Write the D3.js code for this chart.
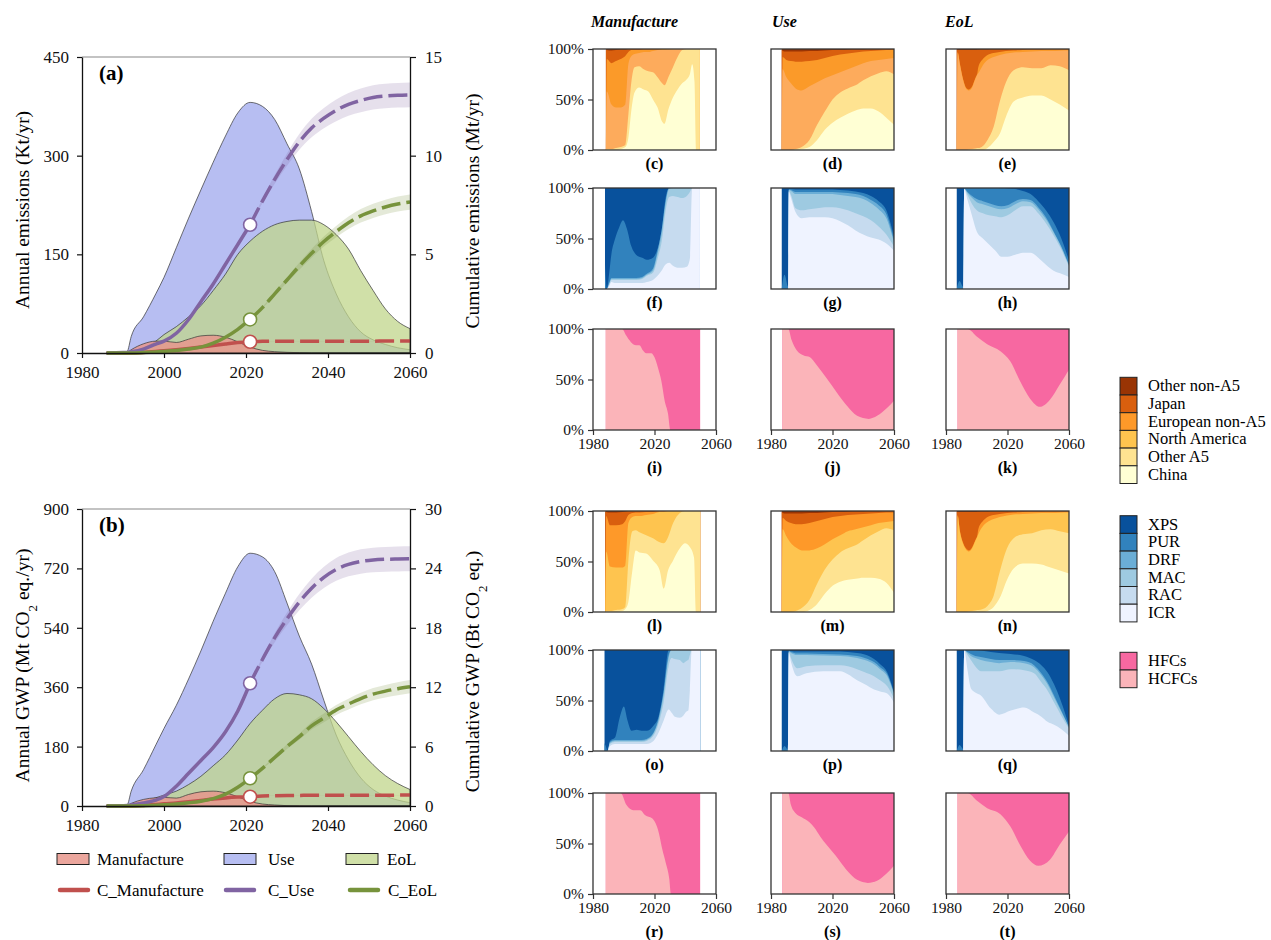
<!DOCTYPE html>
<html><head><meta charset="utf-8">
<script src="https://cdn.jsdelivr.net/npm/d3@7"></script>
<style>body{margin:0;background:#fff}svg{font-family:"Liberation Serif","Times New Roman",Times,serif}</style>
</head><body><svg id="chart" width="1271" height="940"></svg>
<script>
// ---------------- DATA: panels (a) and (b) ----------------
const years = [1986,1990,1991,1992,1995,1998,2000,2003,2006,2009,2012,2015,2018,2021,2024,2027,2030,2033,2036,2039,2042,2045,2048,2051,2054,2057,2060];
// (a) annual emissions, kt/yr
const aManufacture = [0,0,1,5,14,18,18,16,21,26,27,24,17,9,4,2,1,0.5,0,0,0,0,0,0,0,0,0];
const aUse = [0,0,2,25,55,90,115,160,205,248,290,330,365,381,375,355,318,280,215,140,90,55,32,20,13,8,5];
const aEoL = [0,0,0,2,8,18,28,40,55,72,95,120,150,170,185,195,200,202,202,195,180,158,125,95,67,48,37];
// (a) cumulative emissions, Mt
const aCumManufacture = [0,0,0,0.005,0.03,0.08,0.12,0.17,0.23,0.3,0.38,0.46,0.53,0.57,0.59,0.6,0.6,0.6,0.6,0.6,0.6,0.6,0.6,0.6,0.61,0.61,0.61];
const aCumUse = [0,0.02,0.03,0.06,0.2,0.45,0.6,1.0,1.7,2.6,3.5,4.5,5.5,6.5,7.7,8.8,9.8,10.7,11.4,11.9,12.3,12.6,12.8,12.95,13.02,13.06,13.08];
const aCumEoL = [0,0,0,0,0.02,0.05,0.08,0.13,0.2,0.3,0.5,0.8,1.2,1.7,2.3,3.0,3.7,4.4,5.05,5.65,6.15,6.6,6.95,7.2,7.4,7.55,7.65];
// (b) annual GWP, Mt CO2 eq./yr
const bManufacture = [0,0,2,8,20,25,26,24,35,43,45,40,28,14,6,3,1,0.5,0,0,0,0,0,0,0,0,0];
const bUse = [0,0,3,45,110,185,235,305,385,470,560,645,725,766,755,710,615,515,430,320,215,140,85,50,30,18,10];
const bEoL = [0,0,0,3,12,25,33,45,65,90,122,155,200,250,290,325,341,337,325,295,255,210,165,125,92,68,50];
// (b) cumulative GWP, Bt CO2 eq.
const bCumManufacture = [0,0,0,0.01,0.06,0.15,0.22,0.3,0.42,0.55,0.7,0.82,0.9,0.94,1.0,1.04,1.06,1.07,1.08,1.08,1.08,1.08,1.08,1.09,1.09,1.1,1.1];
const bCumUse = [0,0.03,0.05,0.1,0.3,0.6,0.95,2.0,3.3,4.6,5.9,7.5,9.6,12.4,14.8,17.0,18.9,20.6,22.0,23.1,23.9,24.4,24.7,24.85,24.92,24.95,24.97];
const bCumEoL = [0,0,0,0,0.03,0.08,0.12,0.2,0.32,0.48,0.75,1.2,1.9,2.8,3.8,4.9,6.0,7.0,8.1,8.9,9.7,10.3,10.85,11.3,11.6,11.85,12.05];
// relative uncertainty of projected cumulative increase (band half-width)
const bandRatioA = [0.1, 0.095, 0.065];
const bandRatioB = [0.1, 0.1, 0.072];
const baseYear = 2021;
const aTicksLeft = [0,150,300,450], aTicksRight = [0,5,10,15];
const bTicksLeft = [0,180,360,540,720,900], bTicksRight = [0,6,12,18,24,30];
const xTicksMain = [1980,2000,2020,2040,2060];

// ---------------- DATA: share panels (cumulative top of each layer, %) ----------------
const regionNames = ["China","Other A5","North America","European non-A5","Japan","Other non-A5"];
const sectorNames = ["ICR","RAC","MAC","DRF","PUR","XPS"];
const gasNames = ["HCFCs","HFCs"];

const cYears = [1988.4,1989,1992,1995,1998,2001,2003,2005,2007,2010,2013,2016,2019,2022,2025,2026.5,2029,2032,2035,2038,2041,2043,2044.5,2046,2047,2049.5];
const cChina = [0,0,0,0,1,3,12,40,57,62,60,58,50,42,28,26,40,52,60,66,70,75,85,68,0,0];
const cOtherA5 = [0,1,1,2,3,5,35,68,82,83,80,78,77,72,66,64,72,82,92,99,100,100,100,100,100,100];
const cNorthAmerica = [0,58,45,42,42,45,85,93,95,96,97,97,98,99,99,99,99.5,100,100,100,100,100,100,100,100,100];
const cEuropean = [0,90,86,88,90,93,97,99,99,99,99.5,99.5,99.5,99.5,100,100,100,100,100,100,100,100,100,100,100,100];
const cJapan = [100,99,98.5,99,99.5,99.5,100,100,100,100,100,100,100,100,100,100,100,100,100,100,100,100,100,100,100,100];

const dYears = [1987,1987.6,1990,1993,1996,2000,2005,2010,2015,2020,2025,2030,2035,2040,2045,2050,2055,2060];
const dChina = [0,0,0,0,0,1,3,10,20,27,32,36,39,41,41,38,32,25];
const dOtherA5 = [0,0,0,0,1,3,10,25,38,50,57,61,64,69,73,76,78,75];
const dNorthAmerica = [0,80,72,66,61,59,63,67,71,74,77,80,83,86,88,89,90,91];
const dEuropean = [0,92,89,88,87.5,87.5,88,89,91,93,94.5,95.5,96.5,97.5,98,98.5,99,99.3];
const dJapan = [100,98,97.5,97.5,97.5,97.5,98,98,98.5,99,99,99.3,99.5,99.6,99.7,99.8,99.9,100];

const eYears = [1987,1987.6,1989,1991,1993,1995,1997,1999,2000.5,2001,2004,2007,2011,2015,2019,2024,2030,2036,2042,2048,2054,2060];
const eChina = [0,0,0,0,0,0,0,0,0,0,0,2,8,16,33,48,52,54,54,50,45,39];
const eOtherA5 = [0,0,0,0,0,0.5,1,1.5,2,2,4,10,23,48,67,79,82,81,81,84,83,79];
const eNorthAmerica = [0,96,85,70,61,59,62,70,75,76,84,89,92,94,95.5,96.5,97,97.5,98,98,98.3,98.5];
const eEuropean = [0,97,86,71,62,60,63,71,77,82,90,94,96,97,98,98.5,99,99.2,99.3,99.4,99.5,99.5];
const eJapan = [100,99,99,99,99,99,99,99,99.2,99.3,99.5,99.6,99.7,99.8,99.8,99.9,99.9,99.9,100,100,100,100];

const fYears = [1987.8,1988.3,1989,1990.5,1992,1994,1997,1999.5,2002,2005,2008,2012,2015,2019,2022,2025,2027,2029.5,2032,2035,2038,2041,2043,2044.5,2046,2049.5];
const fICR = [0,0,0,3,7,6,6,6,6,6,6,6,7,9,13,19,24,26,23,21,21,22,30,100,100,100];
const fRAC = [0,0,0,4,9,9,9,9,9,9,9,10,13,16,30,50,75,91,92,91,90,92,96,100,100,100];
const fMAC = [0,0,0,5,10,10,10,10,10,10,10,11,14,18,35,58,82,99,100,100,100,100,100,100,100,100];
const fDRF = [0,0,0,6,11,11,11,11,11,11,11,12,15,20,38,62,85,100,100,100,100,100,100,100,100,100];
const fPUR = [25,10,0,15,35,48,61,68,60,42,34,31,29,31,40,62,88,100,100,100,100,100,100,100,100,100];

const gYears = [1987,1988.8,1991.2,1991.6,1993,1996,2000,2005,2010,2015,2020,2025,2030,2035,2040,2045,2050,2055,2060];
const gICR = [0,0,0,96,90,76,70,71,71,71,70,67,63,58,54,51,49,45,38];
const gRAC = [0,0,0,97,93,80,78,79,80,81,81,80,78,75,72,68,62,54,42];
const gMAC = [0,0,0,98,97,94,94,94,94,94,94,93,92,91,89,85,79,70,46];
const gDRF = [0,0,0,98.5,98,96,96,96,96,96,96,95.5,95,94,92,88,83,74,48];
const gPUR = [0,14,2,99,99,98.5,98.5,98.5,98.5,98.5,98.5,98,97.5,96.5,95,92,87,78,52];

const hYears = [1987,1988.8,1991.3,1991.8,1994,1997,2000,2004,2008,2012,2016,2020,2025,2030,2035,2040,2045,2050,2055,2060];
const hICR = [0,0,0,99,88,72,57,50,44,38,32,32,34,36,36,31,24,18,15,12];
const hRAC = [0,0,0,99,93,84,78,75,73,72,71,73,78,82,82,75,65,53,39,22];
const hMAC = [0,0,0,99.2,95,90,86,84,82,80,79,80,84,87,86,79,69,56,41,23];
const hDRF = [0,0,0,99.4,96,92,89,87,85,83,82,83,87,89,88,81,71,57,42,23.5];
const hPUR = [0,8,2,100,100,100,100,100,100,100,99.7,99.5,99,97,94,87,78,66,50,28];

const iYears = [1988.3,1999,2001.4,2004.7,2008,2010.2,2012.4,2014.6,2017.9,2020,2022.2,2024.4,2026.6,2028.8,2030.3,2049.7];
const iHCFC = [100,100,94,87,84,84,79,76,76,72,62,49,29,16,0,0];
const jYears = [1987.4,1991.3,1993.4,1996.7,2001,2005.4,2009.8,2016.3,2022.9,2029.4,2036,2043.6,2049,2055.6,2060];
const jHCFC = [100,100,89,79,74,72,64,51,37,24,14,11,14,22,29];
const kYears = [1987.5,1994,2000.4,2006.8,2015.4,2021.8,2028.3,2034.7,2041.1,2047.6,2054,2060];
const kHCFC = [100,100,92,85,78,68,48,31,23,30,45,60];

const lYears = [1988,1988.6,1991,1995,1999,2001,2003,2005.6,2007.8,2010.2,2014.6,2019,2023.4,2026,2028.8,2032.1,2036.5,2039.8,2043.1,2045.7,2047,2049.7];
const lChina = [0,0,0,0,1,3,10,41,61,59,58,51,41,23,41,51,63,68,64,54,0,0];
const lOtherA5 = [0,1,1,2,3,5,50,80,81,79,76,73,69,68,74,88,98,100,100,100,100,100];
const lNorthAmerica = [0,60,45,44,44,46,88,94,95,95,96,97,99,99,100,100,100,100,100,100,100,100];
const lEuropean = [0,95,86,86,87,90,96,98,98.5,98.5,99,99,100,100,100,100,100,100,100,100,100,100];
const lJapan = [100,99,98.5,98.5,99,99.5,100,100,100,100,100,100,100,100,100,100,100,100,100,100,100,100];

const mYears = [1987,1987.6,1990,1993,1996,2000,2005,2010,2015,2020,2025,2030,2035,2040,2045,2050,2055,2060];
const mChina = [0,0,0,0,0,0,2,8,18,26,30,32,33,34,34,33,29,19];
const mOtherA5 = [0,0,0,0,1,4,12,28,42,52,59,63,66,71,76,80,83,81];
const mNorthAmerica = [0,82,75,68,64,61,61,63,67,72,76,80,82,84,86,88,89,90];
const mEuropean = [0,93,90,88,87,87,88,90,92,94,95,96,96.5,97,97.5,98,98.5,98.5];
const mJapan = [100,98,97.5,97.5,97.5,97.5,98,98,98.5,99,99,99.3,99.5,99.6,99.7,99.8,99.9,100];

const nYears = [1987,1987.6,1989,1991,1993,1995,1997,1999,2000.5,2001,2004,2007,2011,2015,2019.7,2024,2030,2036,2042,2048,2054,2060];
const nChina = [0,0,0,0,0,0,0,0,0,0,0,1,5,14,32,43,48,48,47,44,41,38];
const nOtherA5 = [0,0,0,0,0,0.5,1,1.5,2,2,3,6,16,40,63,73,77,78,81,82,80,78];
const nNorthAmerica = [0,95,80,68,62,60,63,70,75,77,85,89,92,94,95.5,96.5,97,97.5,98,98,98.3,98.5];
const nEuropean = [0,96,81,69,63,61,64,71,77,82,90,94,96,97,98,98.5,99,99.2,99.3,99.4,99.5,99.5];
const nJapan = [100,99,99,99,99,99,99,99,99.2,99.3,99.5,99.6,99.7,99.8,99.8,99.9,99.9,99.9,100,100,100,100];

const oYears = [1987.5,1988.3,1989.5,1991,1994.2,1997.5,2000.1,2002.3,2005.1,2008.4,2011.6,2014.9,2019.3,2022.6,2025.9,2029.2,2031,2033.2,2036.5,2038.7,2040.8,2042,2043,2044.2,2049.7];
const oICR = [0,0,0,5,7,7,7,7,7,7,7,7,10,18,30,41,38,34,33,35,39,40,60,100,100];
const oRAC = [0,0,0,7,9,9,9,9,9,9,9,10,15,27,48,84,92,91,90,87,89,90,95,100,100];
const oMAC = [0,0,0,8,10,10,10,10,10,10,10,11,17,30,55,92,100,100,100,100,100,100,100,100,100];
const oDRF = [0,0,0,9,11,11,11,11,11,11,11,12,18,32,58,95,100,100,100,100,100,100,100,100,100];
const oPUR = [8,5,0,10,13,34,44,31,20,21,20,20,25,34,61,100,100,100,100,100,100,100,100,100,100];

const pYears = [1987,1988.8,1991.2,1991.6,1993,1997,2003,2014,2025,2030,2036,2041,2047,2051,2055.6,2060];
const pICR = [0,0,0,97,88,74,77,79,79,76,70,66,61,59,57,48];
const pRAC = [0,0,0,98,92,82,84,85,85,84,81,78,74,70,64,52];
const pMAC = [0,0,0,98.5,97,95,95,94.5,94,93.5,92,90,86,81,74,56];
const pDRF = [0,0,0,99,98,96.5,96.5,96,95.5,95,94,92,88,83,76,57];
const pPUR = [0,5,1,99.5,99,98.5,98.5,98.5,98.5,98,97,95.5,91,86,78,58];

const qYears = [1987,1988.8,1991.3,1991.8,1994,1996.2,1999,2002.7,2009.2,2014.6,2022.2,2030.8,2037.3,2042,2046,2050.3,2054.6,2060];
const qICR = [0,0,0,100,80,62,58,55,42,36,40,43,38,34,29,26,22,15];
const qRAC = [0,0,0,100,95,90,84,79,79,79,81,80,77,68,60,48,36,22];
const qMAC = [0,0,0,100,97,94,92,90,88,87,88,87,83,75,66,53,40,23];
const qDRF = [0,0,0,100,98,96,94,93,91,90,90,89,85,77,68,55,41,23.5];
const qPUR = [0,6,2,100,100,100,100,99.5,98,97,96,94,90,85,78,66,50,25];

const rYears = [1988.3,1998,2001.8,2006.2,2010.7,2014,2018.4,2020.7,2022.9,2025.1,2027.3,2029.6,2030.7,2049.7];
const rHCFC = [100,100,88,83,83,78,75,70,60,44,31,15,0,0];
const sYears = [1987.4,1991.3,1993,1996,2000,2005,2008,2012,2016,2022,2029,2036,2043,2049,2055,2060];
const sHCFC = [100,100,88,80,76,71,66,57,49,38,24,14,11,13,20,28];
const tYears = [1987.5,1994,2000.4,2006.8,2015.4,2021.8,2028.3,2034.7,2040,2047.6,2054,2060];
const tHCFC = [100,100,92,85,79,67,48,33,28,34,49,62];

const shareTicks = [0,50,100];
const shareXTicks = [1980,2020,2060];

// ---------------- STYLES ----------------
const colManufacture = "#e8968c", colUse = "#b7bef2", colEoL = "#c0d68b";
const lineManufacture = "#c0504d", lineUse = "#8064a2", lineEoL = "#77933c";
const regionColorsEm = ["#ffffd4","#fee391","#fdab5c","#fb9a29","#d95f0e","#993404"];
const regionColorsGwp = ["#ffffd4","#fee391","#fec44f","#fe9929","#d95f0e","#993404"];
const sectorColors = ["#eff3ff","#c6dbef","#9ecae1","#6baed6","#3182bd","#08519c"];
const gasColors = ["#fbb4b9","#f768a1"];

const svg = d3.select("#chart");

// ---------------- MAIN PANELS ----------------
function drawMain(o) {
  const x = d3.scaleLinear().domain([1980,2060]).range([82,410]);
  const y = d3.scaleLinear().domain([0,o.yMax]).range([o.bottom,o.top]);
  const y2 = d3.scaleLinear().domain([0,o.y2Max]).range([o.bottom,o.top]);
  const g = svg.append("g");
  const area = vals => d3.area().x((d,i)=>x(years[i])).y0(y(0)).y1((d,i)=>y(vals[i])).curve(d3.curveMonotoneX)(years);
  g.append("path").attr("d", area(o.use)).attr("fill", colUse).attr("stroke","#333").attr("stroke-width",0.7);
  g.append("path").attr("d", area(o.eol)).attr("fill", colEoL).attr("fill-opacity",0.75).attr("stroke","#333").attr("stroke-width",0.7);
  g.append("path").attr("d", area(o.man)).attr("fill", colManufacture).attr("fill-opacity",0.85).attr("stroke","#333").attr("stroke-width",0.7);

  const cums = [[o.cMan,lineManufacture,o.ratio[0]],[o.cUse,lineUse,o.ratio[1]],[o.cEoL,lineEoL,o.ratio[2]]];
  const bi = years.indexOf(baseYear);
  // uncertainty bands
  cums.forEach(([vals,col,r])=>{
    const v0 = vals[bi];
    const idx = years.map((d,i)=>i).filter(i=>years[i]>=baseYear);
    const band = d3.area().x(i=>x(years[i])).y0(i=>y2(vals[i]-r*(vals[i]-v0))).y1(i=>y2(vals[i]+r*(vals[i]-v0))).curve(d3.curveMonotoneX);
    g.append("path").attr("d", band(idx)).attr("fill", col).attr("fill-opacity",0.2);
  });
  cums.forEach(([vals,col])=>{
    const line = d3.line().x(i=>x(years[i])).y(i=>y2(vals[i])).curve(d3.curveMonotoneX);
    const hist = years.map((d,i)=>i).filter(i=>years[i]<=baseYear);
    const proj = years.map((d,i)=>i).filter(i=>years[i]>=baseYear);
    g.append("path").attr("d", line(hist)).attr("fill","none").attr("stroke",col).attr("stroke-width",3.5);
    g.append("path").attr("d", line(proj)).attr("fill","none").attr("stroke",col).attr("stroke-width",3.5).attr("stroke-dasharray","19,6");
  });
  cums.forEach(([vals,col])=>{
    g.append("circle").attr("cx", x(baseYear)).attr("cy", y2(vals[bi])).attr("r",6.5).attr("fill","#fff").attr("stroke",col).attr("stroke-width",1.6);
  });

  // frame + axes
  g.append("line").attr("x1",82).attr("x2",410).attr("y1",o.top).attr("y2",o.top).attr("stroke","#888").attr("stroke-width",1.2);
  const ax = (sel)=>{ sel.selectAll("text").attr("font-size",17).attr("fill","#111").attr("font-family",'"Liberation Serif",serif');
    sel.select(".domain").attr("stroke","#111").attr("stroke-width",1.3); sel.selectAll(".tick line").attr("stroke","#111").attr("stroke-width",1.2); };
  g.append("g").attr("transform",`translate(82,0)`).call(d3.axisLeft(y).tickValues(o.yTicks).tickSize(5).tickPadding(8).tickSizeOuter(0)).call(ax);
  g.append("g").attr("transform",`translate(410,0)`).call(d3.axisRight(y2).tickValues(o.y2Ticks).tickSize(6).tickPadding(9).tickSizeOuter(0)).call(ax);
  g.append("g").attr("transform",`translate(0,${o.bottom})`).call(d3.axisBottom(x).tickValues(xTicksMain).tickFormat(d3.format("d")).tickSize(5).tickPadding(8).tickSizeOuter(0)).call(ax);

  g.append("text").attr("x",99).attr("y",o.top+23).attr("font-size",21).attr("font-weight","bold").text(o.label);
  const cy = (o.top+o.bottom)/2;
  const t1 = g.append("text").attr("transform",`translate(22,${cy+o.lOff}) rotate(-90)`).attr("text-anchor","middle").attr("dy","0.35em").attr("font-size",19.5);
  o.ylab(t1);
  const t2 = g.append("text").attr("transform",`translate(472,${cy+o.rOff}) rotate(-90)`).attr("text-anchor","middle").attr("dy","0.35em").attr("font-size",19.5);
  o.y2lab(t2);
}

drawMain({top:57,bottom:353,yMax:450,y2Max:15,yTicks:aTicksLeft,y2Ticks:aTicksRight,label:"(a)",
  use:aUse,eol:aEoL,man:aManufacture,cMan:aCumManufacture,cUse:aCumUse,cEoL:aCumEoL,ratio:bandRatioA,lOff:5,rOff:6,
  ylab:t=>t.text("Annual emissions (Kt/yr)"), y2lab:t=>t.text("Cumulative emissions (Mt/yr)")});
drawMain({top:509,bottom:806,yMax:900,y2Max:30,yTicks:bTicksLeft,y2Ticks:bTicksRight,label:"(b)",
  use:bUse,eol:bEoL,man:bManufacture,cMan:bCumManufacture,cUse:bCumUse,cEoL:bCumEoL,ratio:bandRatioB,lOff:8,rOff:14,
  ylab:t=>{t.append("tspan").text("Annual GWP (Mt CO");t.append("tspan").attr("font-size",13).attr("baseline-shift","sub").text("2");t.append("tspan").text(" eq./yr)");},
  y2lab:t=>{t.append("tspan").text("Cumulative GWP (Bt CO");t.append("tspan").attr("font-size",13).attr("baseline-shift","sub").text("2");t.append("tspan").text(" eq.)");}});

// bottom legend
const legArea = [["Manufacture",colManufacture,0.85,57,97],["Use",colUse,1,224,268],["EoL",colEoL,0.75,346,387]];
legArea.forEach(([name,col,op,x0,tx])=>{
  svg.append("rect").attr("x",x0).attr("y",853.5).attr("width",32).attr("height",11).attr("fill",col).attr("fill-opacity",op).attr("stroke","#222").attr("stroke-width",1);
  svg.append("text").attr("x",tx).attr("y",865).attr("font-size",17).text(name);
});
const legLine = [["C_Manufacture",lineManufacture,58,97],["C_Use",lineUse,224,268],["C_EoL",lineEoL,348,388]];
legLine.forEach(([name,col,x0,tx])=>{
  svg.append("line").attr("x1",x0+2).attr("x2",x0+30).attr("y1",890).attr("y2",890).attr("stroke",col).attr("stroke-width",4.5).attr("stroke-linecap","round");
  svg.append("text").attr("x",tx).attr("y",896).attr("font-size",17).text(name);
});

// ---------------- SHARE PANELS ----------------
const colX = [593,771,946], pw = 123;
const rowY = [49,188,329,511,650,793], ph = 101;
const panels = [
  ["c",0,0,cYears,[cChina,cOtherA5,cNorthAmerica,cEuropean,cJapan],regionColorsEm],
  ["d",1,0,dYears,[dChina,dOtherA5,dNorthAmerica,dEuropean,dJapan],regionColorsEm],
  ["e",2,0,eYears,[eChina,eOtherA5,eNorthAmerica,eEuropean,eJapan],regionColorsEm],
  ["f",0,1,fYears,[fICR,fRAC,fMAC,fDRF,fPUR],sectorColors],
  ["g",1,1,gYears,[gICR,gRAC,gMAC,gDRF,gPUR],sectorColors],
  ["h",2,1,hYears,[hICR,hRAC,hMAC,hDRF,hPUR],sectorColors],
  ["i",0,2,iYears,[iHCFC],gasColors],
  ["j",1,2,jYears,[jHCFC],gasColors],
  ["k",2,2,kYears,[kHCFC],gasColors],
  ["l",0,3,lYears,[lChina,lOtherA5,lNorthAmerica,lEuropean,lJapan],regionColorsGwp],
  ["m",1,3,mYears,[mChina,mOtherA5,mNorthAmerica,mEuropean,mJapan],regionColorsGwp],
  ["n",2,3,nYears,[nChina,nOtherA5,nNorthAmerica,nEuropean,nJapan],regionColorsGwp],
  ["o",0,4,oYears,[oICR,oRAC,oMAC,oDRF,oPUR],sectorColors],
  ["p",1,4,pYears,[pICR,pRAC,pMAC,pDRF,pPUR],sectorColors],
  ["q",2,4,qYears,[qICR,qRAC,qMAC,qDRF,qPUR],sectorColors],
  ["r",0,5,rYears,[rHCFC],gasColors],
  ["s",1,5,sYears,[sHCFC],gasColors],
  ["t",2,5,tYears,[tHCFC],gasColors]
];
const defs = svg.append("defs");
panels.forEach(([id,col,row,yrs,tops,colors])=>{
  const x0 = colX[col], y0 = rowY[row];
  const x = d3.scaleLinear().domain([1980,2060]).range([x0,x0+pw]);
  const y = d3.scaleLinear().domain([0,100]).range([y0+ph,y0]);
  defs.append("clipPath").attr("id","clip-"+id).append("rect").attr("x",x0).attr("y",y0).attr("width",pw).attr("height",ph);
  const g = svg.append("g").attr("clip-path",`url(#clip-${id})`);
  const full = yrs.map(()=>100);
  const layers = tops.concat([full]);
  for (let k = layers.length-1; k >= 0; k--) {
    const vals = layers[k];
    const a = d3.area().x((d,i)=>x(yrs[i])).y0(y(0)).y1((d,i)=>y(vals[i])).curve(d3.curveMonotoneX);
    g.append("path").attr("d", a(yrs)).attr("fill", colors[k]);
  }
  svg.append("rect").attr("x",x0).attr("y",y0).attr("width",pw).attr("height",ph).attr("fill","none").attr("stroke","#333").attr("stroke-width",1.3);
  const ax = (sel)=>{ sel.selectAll("text").attr("font-size",15.5).attr("fill","#111").attr("font-family",'"Liberation Serif",serif');
    sel.select(".domain").remove(); sel.selectAll(".tick line").attr("stroke","#333").attr("stroke-width",1.2); };
  if (col === 0) {
    svg.append("g").attr("transform",`translate(${x0},0)`).call(d3.axisLeft(y).tickValues(shareTicks).tickFormat(d=>d+"%").tickSize(5).tickPadding(4)).call(ax);
  }
  let labY = y0+ph+19;
  if (row === 2 || row === 5) {
    svg.append("g").attr("transform",`translate(0,${y0+ph})`).call(d3.axisBottom(x).tickValues(shareXTicks).tickFormat(d3.format("d")).tickSize(5).tickPadding(3)).call(ax);
    labY = y0+ph+43;
  }
  svg.append("text").attr("x",x0+pw/2).attr("y",labY).attr("text-anchor","middle").attr("font-size",16).attr("font-weight","bold").text(`(${id})`);
});
// column headers
[["Manufacture",591],["Use",772],["EoL",945]].forEach(([t,xx])=>{
  svg.append("text").attr("x",xx).attr("y",27).attr("font-size",16).attr("font-weight","bold").attr("font-style","italic").text(t);
});

// right legend
function legendBlock(names, colors, top) {
  names.forEach((n,i)=>{
    const yy = top + i*17.7;
    svg.append("rect").attr("x",1120).attr("y",yy).attr("width",17).attr("height",17.7).attr("fill",colors[i]).attr("stroke","#222").attr("stroke-width",1);
    svg.append("text").attr("x",1148).attr("y",yy+13.8).attr("font-size",16.5).text(n);
  });
}
legendBlock(regionNames.slice().reverse(), regionColorsGwp.slice().reverse(), 377.3);
legendBlock(sectorNames.slice().reverse(), sectorColors.slice().reverse(), 515.7);
legendBlock(gasNames.slice().reverse(), gasColors.slice().reverse(), 652.3);
</script></body></html>
